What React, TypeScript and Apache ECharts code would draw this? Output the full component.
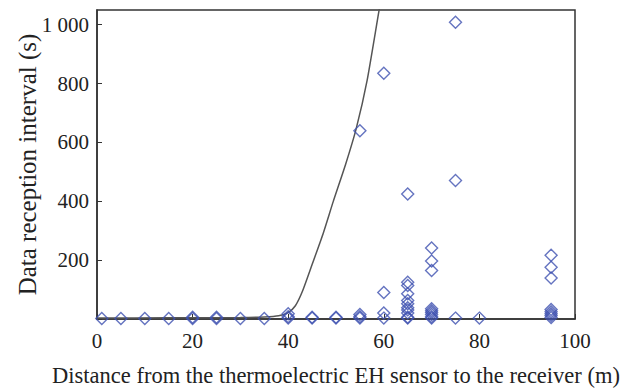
import React, { useEffect, useRef } from "react";
import * as echarts from "echarts";

// Measured points: distance (m) and data reception interval (s)
const measuredDistance = [
  1, 5, 10, 15, 20, 20, 25, 25, 30, 35,
  40, 40, 40, 45, 45, 50, 50,
  55, 55, 55, 55,
  60, 60, 60, 60,
  65, 65, 65, 65, 65, 65, 65, 65, 65, 65, 65,
  70, 70, 70, 70, 70, 70, 70, 70, 70,
  75, 75, 75, 80,
  95, 95, 95, 95, 95, 95, 95, 95,
];
const measuredInterval = [
  2, 2, 2, 2, 2, 6, 2, 6, 2, 2,
  3, 8, 18, 3, 6, 3, 6,
  3, 8, 15, 640,
  3, 20, 90, 835,
  3, 6, 20, 31, 38, 52, 63, 86, 114, 125, 425,
  3, 8, 15, 22, 28, 35, 165, 197, 241,
  3, 471, 1008, 3,
  5, 12, 18, 25, 32, 139, 176, 217,
];

// Fitted curve
const fitDistance = [0, 15, 30, 35, 38, 40, 41.5, 43, 45, 47.3, 49.4, 52, 54.2, 56.5, 59, 59.6];
const fitInterval = [3, 4, 5, 7, 11, 22, 45, 95, 185, 290, 398, 525, 645, 810, 1048, 1100];

const xTicks = [0, 20, 40, 60, 80, 100];
const yTickLabels: Record<number, string> = { 200: "200", 400: "400", 600: "600", 800: "800", 1000: "1 000" };

const FONT = "Liberation Serif";

export default function App() {
  const ref = useRef<HTMLDivElement>(null);
  useEffect(() => {
    if (!ref.current) return;
    const chart = echarts.init(ref.current, undefined, { renderer: "svg" });
    const scatterData = measuredDistance.map((d, i) => [d, measuredInterval[i]]);
    const lineData = fitDistance.map((d, i) => [d, fitInterval[i]]);
    chart.setOption({
      animation: false,
      backgroundColor: "#ffffff",
      grid: {
        left: 97,
        right: 63,
        top: 10,
        bottom: 69,
        outerBoundsMode: "none",
        containLabel: false,
        show: true,
        borderColor: "#333",
        borderWidth: 1.5,
        backgroundColor: "transparent",
      },
      xAxis: {
        type: "value",
        min: 0,
        max: 100,
        interval: 20,
        name: "Distance from the thermoelectric EH sensor to the receiver (m)",
        nameLocation: "middle",
        nameGap: 45,
        nameMoveOverlap: false,
        nameTextStyle: { fontFamily: FONT, fontSize: 22.5, color: "#222" },
        axisLine: { show: true, lineStyle: { color: "#333", width: 1.5 } },
        axisTick: { show: true, inside: true, length: 5, lineStyle: { color: "#333" } },
        axisLabel: {
          fontFamily: FONT,
          fontSize: 21,
          color: "#222",
          margin: 11,
          formatter: (v: number) => (xTicks.includes(v) ? String(v) : ""),
        },
        splitLine: { show: false },
      },
      yAxis: {
        type: "value",
        min: 0,
        max: 1050,
        interval: 200,
        name: "Data reception interval (s)",
        nameLocation: "middle",
        nameGap: 57,
        nameMoveOverlap: false,
        nameTextStyle: { fontFamily: FONT, fontSize: 25, color: "#222" },
        axisLine: { show: true, lineStyle: { color: "#333", width: 1.5 } },
        axisTick: { show: true, inside: true, length: 5, lineStyle: { color: "#333" } },
        axisLabel: {
          fontFamily: FONT,
          fontSize: 21,
          color: "#222",
          margin: 8,
          showMaxLabel: false,
          formatter: (v: number) => yTickLabels[v] ?? "",
        },
        splitLine: { show: false },
      },
      series: [
        {
          type: "line",
          data: lineData,
          smooth: 0.2,
          showSymbol: false,
          symbol: "none",
          clip: true,
          lineStyle: { color: "#555", width: 1.5 },
          z: 2,
        },
        {
          type: "scatter",
          data: scatterData,
          symbol: "diamond",
          symbolSize: 12,
          clip: false,
          itemStyle: { color: "transparent", borderColor: "#3f51b0", borderWidth: 1.4 },
          z: 3,
        },
      ],
    });
    return () => chart.dispose();
  }, []);
  return (
    <div
      ref={ref}
      style={{ position: "fixed", left: 0, top: 0, width: 638, height: 388 }}
    />
  );
}
